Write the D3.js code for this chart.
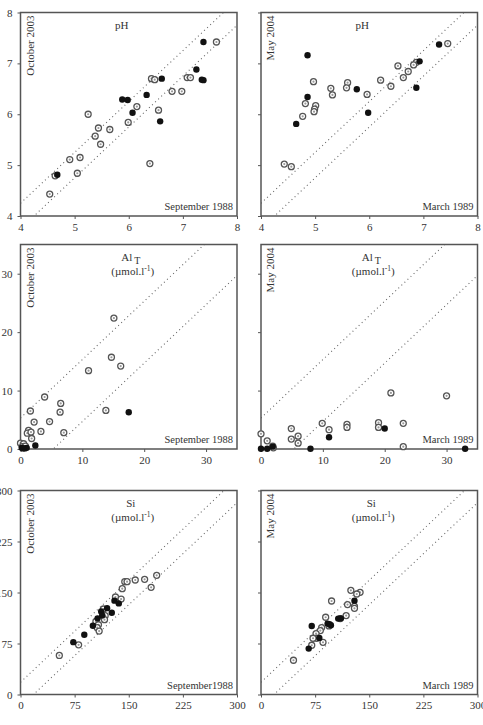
<!DOCTYPE html>
<html>
<head>
<meta charset="utf-8">
<script src="https://cdn.jsdelivr.net/npm/d3@7"></script>
<style>
    body { margin: 0; background: #fff; }
    svg { display: block; }
    text { font-family: 'Liberation Serif', 'DejaVu Serif', serif; fill: #333; }
    .axis path, .axis line { stroke: #555; }
    .axis text { font-size: 11px; fill: #333; font-family: 'Liberation Serif', serif; }
</style>
</head>
<body>
<svg></svg>
<script>
// tick values
var phTicks = [4, 5, 6, 7, 8];
var alTicks = [0, 10, 20, 30];
var siTicks = [0, 75, 150, 225, 300];

// pH : September 1988 (x) vs October 2003 (y)
var phSepOpen = [[7.62, 7.42], [6.42, 6.70], [6.48, 6.68], [7.08, 6.72], [7.14, 6.72], [6.80, 6.45],
    [6.98, 6.45], [6.15, 6.15], [6.55, 6.08], [5.99, 5.84], [5.25, 6.00], [5.44, 5.73], [5.65, 5.70],
    [5.38, 5.57], [5.48, 5.41], [5.10, 5.15], [4.91, 5.11], [5.05, 4.84], [6.39, 5.03], [4.54, 4.43],
    [4.64, 4.79]];
var phSepFilled = [[7.38, 7.42], [7.25, 6.88], [7.35, 6.68], [7.38, 6.67], [6.61, 6.70], [6.33, 6.38],
    [5.88, 6.29], [5.98, 6.28], [6.07, 6.03], [6.58, 5.86], [4.68, 4.81]];

// pH : March 1989 (x) vs May 2004 (y)
var phMarOpen = [[7.45, 7.39], [6.87, 7.02], [6.82, 6.97], [6.53, 6.95], [6.72, 6.84], [6.63, 6.72],
    [6.40, 6.55], [6.21, 6.67], [5.96, 6.39], [5.60, 6.62], [5.58, 6.52], [5.29, 6.51], [5.32, 6.38],
    [4.97, 6.64], [4.82, 6.21], [5.01, 6.17], [4.99, 6.10], [4.98, 6.05], [4.77, 5.96], [4.43, 5.02],
    [4.56, 4.97]];
var phMarFilled = [[7.29, 7.37], [6.93, 7.04], [6.87, 6.52], [5.77, 6.49], [5.98, 6.03], [4.86, 7.16],
    [4.86, 6.34], [4.65, 5.81]];

// Al_T : September 1988 vs October 2003
var alSepOpen = [[15.1, 22.4], [14.7, 15.7], [16.2, 14.2], [11.0, 13.4], [13.8, 6.6], [3.9, 8.9],
    [6.5, 7.8], [6.4, 6.3], [1.6, 6.5], [4.7, 4.7], [2.2, 4.6], [3.3, 3.0], [7.0, 2.8], [1.3, 3.2],
    [1.1, 2.7], [1.7, 2.9], [1.8, 1.8], [0.0, 1.0], [0.5, 0.9], [0.3, 0.4], [0.8, 0.5]];
var alSepFilled = [[17.5, 6.3], [2.4, 0.6], [0.2, 0.2], [0.7, 0.1], [1.0, 0.2], [0.4, 0.1]];

// Al_T : March 1989 vs May 2004
var alMarOpen = [[0.0, 2.6], [1.0, 1.4], [4.9, 3.5], [4.9, 1.7], [6.0, 2.2], [6.0, 1.0], [9.9, 4.4],
    [11.0, 3.3], [13.9, 4.2], [13.9, 3.7], [19.0, 4.5], [19.0, 3.7], [21.0, 9.6], [23.0, 4.4],
    [23.0, 0.4], [30.0, 9.1], [1.9, 0.5], [2.0, 0.2]];
var alMarFilled = [[0.0, 0.05], [1.0, 0.05], [1.9, 0.4], [8.0, 0.05], [11.0, 2.0], [20.0, 3.5],
    [33.0, 0.05]];

// Si : September 1988 vs October 2003
var siSepOpen = [[188.7, 175.3], [172, 169.4], [181, 157.6], [159, 168.4], [144.5, 165.9],
    [147.7, 165.9], [141, 155.6], [131.6, 143.4], [139.4, 140.4], [115, 125.7], [117.3, 115.9],
    [116.4, 110], [104.5, 107.5], [108, 102.6], [106.3, 98.2], [109, 93.3], [80.5, 73.1], [53.8, 57.4]];
var siSepFilled = [[130.2, 138], [136.2, 134], [120, 127], [111.8, 122.2], [126.5, 120.3],
    [113.2, 116.3], [106.8, 112], [100.3, 101.1], [88.4, 87.9], [73.2, 77]];

// Si : March 1989 vs May 2004
var siMarOpen = [[137.3, 150.3], [132.7, 147.8], [124.5, 153.2], [97.8, 137.5], [119.9, 132.2],
    [129.5, 129.7], [129.5, 126.8], [118, 116], [89.6, 113.6], [109.8, 111.6], [84, 98.4], [82.2, 94],
    [76.3, 89.6], [77.2, 82.7], [72.1, 82.7], [85.9, 76.8], [70.3, 72.4], [45, 50.4], [94.2, 100.8]];
var siMarFilled = [[129.5, 138], [107, 111.6], [110.7, 112], [92.3, 104.3], [95, 103.3],
    [96.9, 101.8], [70.3, 100.8], [80.8, 83.2], [66.1, 67.5]];

var W = 483, H = 725;
var cols = [[20.5, 237], [261, 477.5]];
var rows = [[12.5, 216], [244.5, 449], [490.5, 694.5]];

var panels = [
    { row: 0, col: 0, domain: [4, 8], ticks: phTicks, band: 0.25, title: 'pH', yName: 'October 2003', xName: 'September 1988', open: phSepOpen, filled: phSepFilled, yLabels: true },
    { row: 0, col: 1, domain: [4, 8], ticks: phTicks, band: 0.25, title: 'pH', yName: 'May 2004', xName: 'March 1989', open: phMarOpen, filled: phMarFilled, yLabels: false },
    { row: 1, col: 0, domain: [0, 35], ticks: alTicks, band: 5.3, title: 'Al', sub: 'T', unit: true, yName: 'October 2003', xName: 'September 1988', open: alSepOpen, filled: alSepFilled, yLabels: true },
    { row: 1, col: 1, domain: [0, 35], ticks: alTicks, band: 5.3, title: 'Al', sub: 'T', unit: true, yName: 'May 2004', xName: 'March 1989', open: alMarOpen, filled: alMarFilled, yLabels: false },
    { row: 2, col: 0, domain: [0, 300], ticks: siTicks, band: 18, title: 'Si', unit: true, yName: 'October 2003', xName: 'September1988', open: siSepOpen, filled: siSepFilled, yLabels: true },
    { row: 2, col: 1, domain: [0, 300], ticks: siTicks, band: 18, title: 'Si', unit: true, yName: 'May 2004', xName: 'March 1989', open: siMarOpen, filled: siMarFilled, yLabels: false }
];

var root = d3.select('svg')
    .attr('width', W)
    .attr('height', H);

var fmt = d3.format('d');

panels.forEach(function (p) {
    var x0 = cols[p.col][0], x1 = cols[p.col][1];
    var y0 = rows[p.row][0], y1 = rows[p.row][1];

    var x = d3.scaleLinear().domain(p.domain).range([x0, x1]);
    var y = d3.scaleLinear().domain(p.domain).range([y1, y0]);

    var g = root.append('g').attr('class', 'panel');

    var clipId = 'clip' + p.row + p.col;
    g.append('clipPath').attr('id', clipId)
        .append('rect')
        .attr('x', x0).attr('y', y0)
        .attr('width', x1 - x0).attr('height', y1 - y0);

    // 1:1 band lines (dotted)
    var lo = p.domain[0], hi = p.domain[1];
    [p.band, -p.band].forEach(function (off) {
        g.append('line')
            .attr('clip-path', 'url(#' + clipId + ')')
            .attr('x1', x(lo)).attr('y1', y(lo + off))
            .attr('x2', x(hi)).attr('y2', y(hi + off))
            .style('stroke', '#666')
            .style('stroke-width', 1.1)
            .style('stroke-dasharray', '1,3.2');
    });

    // axes
    g.append('g')
        .attr('class', 'axis')
        .attr('transform', 'translate(0,' + y1 + ')')
        .call(d3.axisBottom(x).tickValues(p.ticks).tickFormat(fmt)
            .tickSize(3).tickPadding(4).tickSizeOuter(0));

    var yAxis = d3.axisLeft(y).tickValues(p.ticks).tickFormat(fmt)
        .tickSize(3).tickPadding(5).tickSizeOuter(0);
    if (!p.yLabels) yAxis.tickFormat('');
    g.append('g')
        .attr('class', 'axis')
        .attr('transform', 'translate(' + x0 + ',0)')
        .call(yAxis);
    g.selectAll('.axis .domain').remove();

    // frame
    g.append('rect')
        .attr('x', x0).attr('y', y0)
        .attr('width', x1 - x0).attr('height', y1 - y0)
        .style('fill', 'none')
        .style('stroke', '#555')
        .style('stroke-width', 1.5);

    // markers
    var opens = g.selectAll('g.open')
        .data(p.open)
        .enter()
        .append('g')
        .attr('class', 'open')
        .attr('transform', function (d) { return 'translate(' + x(d[0]) + ',' + y(d[1]) + ')'; });
    opens.append('circle')
        .attr('r', 3)
        .style('fill', '#fff')
        .style('stroke', '#555')
        .style('stroke-width', 1.3);
    opens.append('circle')
        .attr('r', 1.1)
        .style('fill', '#999');

    g.selectAll('circle.filled')
        .data(p.filled)
        .enter()
        .append('circle')
        .attr('class', 'filled')
        .attr('cx', function (d) { return x(d[0]); })
        .attr('cy', function (d) { return y(d[1]); })
        .attr('r', 3.2)
        .style('fill', '#111');

    // labels
    var cx = (x0 + x1) / 2;
    var t = g.append('text')
        .attr('x', p.unit ? cx + 2 : cx - 7)
        .attr('y', y0 + 16)
        .attr('text-anchor', 'middle')
        .style('font-size', '11px')
        .text(p.title);
    if (p.sub) {
        t.append('tspan').attr('dx', 2).attr('dy', 3).style('font-size', '10px').text('T');
    }
    if (p.unit) {
        var u = g.append('text')
            .attr('x', cx + 4)
            .attr('y', y0 + 30)
            .attr('text-anchor', 'middle')
            .style('font-size', '11px')
            .text('(\u00b5mol.l');
        u.append('tspan').attr('dy', -4).style('font-size', '7.5px').text('-1');
        u.append('tspan').attr('dy', 4).text(')');
    }

    g.append('text')
        .attr('transform', 'translate(' + (x0 + 13) + ',' + (y0 + 3) + ') rotate(-90)')
        .attr('text-anchor', 'end')
        .style('font-size', '11px')
        .text(p.yName);

    g.append('text')
        .attr('x', x1 - 4)
        .attr('y', y1 - 6)
        .attr('text-anchor', 'end')
        .style('font-size', '10.5px')
        .text(p.xName);
});
</script>
</body>
</html>
